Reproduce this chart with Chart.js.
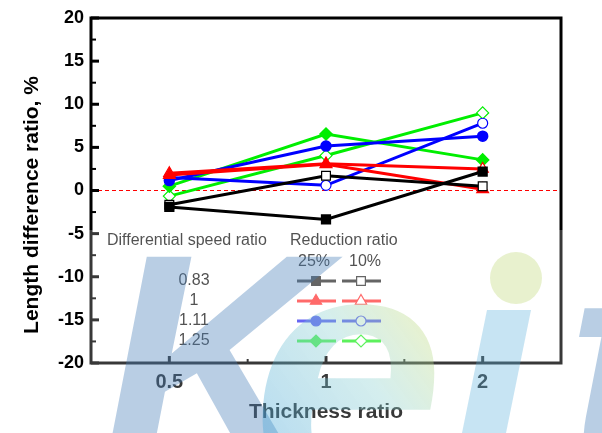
<!DOCTYPE html>
<html>
<head>
<meta charset="utf-8">
<script src="https://cdn.jsdelivr.net/npm/chart.js@4/dist/chart.umd.min.js"></script>
<style>
  html, body { margin: 0; padding: 0; background: #fff; }
  #wrap { width: 602px; height: 433px; }
</style>
</head>
<body>
<div id="wrap"><canvas id="chart"></canvas></div>
<script>
// data
const thicknessRatios = ['0.5', '1', '2'];
const speedRatios = ['0.83', '1', '1.11', '1.25'];
const reductionRatios = ['25%', '10%'];

const black25 = [-1.9, -3.35, 2.2];
const black10 = [-1.65, 1.7, 0.5];
const red25 = [1.8, 3.05, 0.15];
const red10 = [2.0, 3.1, 2.5];
const blue25 = [1.15, 5.15, 6.3];
const blue10 = [1.5, 0.6, 7.8];
const green25 = [0.5, 6.55, 3.55];
const green10 = [-0.65, 4.05, 9.0];

const FONT = 'Arial, "Liberation Sans", sans-serif';

// one style per speed ratio row
const rows = [
  { color: '#000000', key: '#3a3a3a', style: 'rect', radius: 6.2, d25: black25, d10: black10 },
  { color: '#ff0000', key: '#ff4040', style: 'triangle', radius: 6.5, d25: red25, d10: red10 },
  { color: '#0000ff', key: '#3c3cf0', style: 'circle', radius: 5, d25: blue25, d10: blue10 },
  { color: '#00ee00', key: '#30ee30', style: 'rectRot', radius: 6, d25: green25, d10: green10 }
];

function makeSet(row, label, values, filled) {
  return {
    label: label,
    data: values,
    borderColor: row.color,
    borderWidth: 3,
    pointStyle: row.style,
    pointRadius: row.radius,
    pointBorderWidth: filled ? 1.5 : 1.2,
    pointBorderColor: row.color,
    pointBackgroundColor: filled ? row.color : '#ffffff',
    tension: 0,
    fill: false
  };
}

const datasets = [];
rows.forEach((r, i) => {
  datasets.push(makeSet(r, speedRatios[i] + ' ' + reductionRatios[0], r.d25, true));
  datasets.push(makeSet(r, speedRatios[i] + ' ' + reductionRatios[1], r.d10, false));
});

const decorPlugin = {
  id: 'decor',
  beforeDatasetsDraw(chart) {
    const { ctx, chartArea: a, scales: { y } } = chart;
    const y0 = y.getPixelForValue(0);
    ctx.save();
    ctx.strokeStyle = '#ff0000';
    ctx.lineWidth = 1;
    ctx.setLineDash([4, 3]);
    ctx.beginPath();
    ctx.moveTo(a.left, y0);
    ctx.lineTo(a.right, y0);
    ctx.stroke();
    ctx.restore();
  },
  afterDatasetsDraw(chart) {
    const { ctx, chartArea: a, scales: { x, y } } = chart;
    ctx.save();
    // frame
    ctx.strokeStyle = '#000';
    ctx.lineWidth = 3;
    ctx.strokeRect(a.left, a.top, a.right - a.left, a.bottom - a.top);

    // inward ticks on y
    for (let v = -20; v <= 20; v += 2.5) {
      const py = y.getPixelForValue(v);
      const major = v % 5 === 0;
      ctx.lineWidth = major ? 3 : 2;
      ctx.beginPath();
      ctx.moveTo(a.left, py);
      ctx.lineTo(a.left + (major ? 8 : 5), py);
      ctx.stroke();
    }
    // inward ticks on x
    for (let i = 0; i < thicknessRatios.length; i++) {
      const px = x.getPixelForValue(i);
      ctx.lineWidth = 3;
      ctx.beginPath();
      ctx.moveTo(px, a.bottom);
      ctx.lineTo(px, a.bottom - 7);
      ctx.stroke();
      if (i < thicknessRatios.length - 1) {
        const mx = (px + x.getPixelForValue(i + 1)) / 2;
        ctx.lineWidth = 2;
        ctx.beginPath();
        ctx.moveTo(mx, a.bottom);
        ctx.lineTo(mx, a.bottom - 4);
        ctx.stroke();
      }
    }

    // y axis title
    ctx.fillStyle = '#000';
    ctx.font = 'bold 21px ' + FONT;
    ctx.textAlign = 'center';
    ctx.textBaseline = 'middle';
    ctx.translate(32, 205);
    ctx.rotate(-Math.PI / 2);
    ctx.fillText('Length difference ratio, %', 0, 0);
    ctx.restore();

    // legend block inside plot
    ctx.save();
    ctx.fillStyle = '#222';
    ctx.font = '16px ' + FONT;
    ctx.textBaseline = 'middle';
    ctx.textAlign = 'left';
    ctx.fillText('Differential speed ratio', a.left + 16, 241);
    ctx.fillText('Reduction ratio', a.left + 199, 241);
    ctx.textAlign = 'center';
    ctx.fillText(reductionRatios[0], 314, 262);
    ctx.fillText(reductionRatios[1], 365, 262);
    const rowY = [281, 301, 321, 341];
    const cols = [{ x0: 297, x1: 336, mx: 316, filled: true }, { x0: 342, x1: 381, mx: 361, filled: false }];
    rows.forEach((r, i) => {
      ctx.fillStyle = '#222';
      ctx.fillText(speedRatios[i], 194, rowY[i]);
      cols.forEach(c => {
        ctx.strokeStyle = r.key;
        ctx.lineWidth = 3;
        ctx.beginPath();
        ctx.moveTo(c.x0, rowY[i]);
        ctx.lineTo(c.x1, rowY[i]);
        ctx.stroke();
        ctx.fillStyle = c.filled ? r.key : '#fff';
        ctx.lineWidth = 1.2;
        Chart.helpers.drawPoint(ctx, { pointStyle: r.style, radius: r.radius, rotation: 0, borderWidth: 1.2 }, c.mx, rowY[i]);
      });
    });
    ctx.restore();
  },
  afterDraw(chart) {
    // faint "Keit" watermark lying over the lower part of the picture
    const { ctx } = chart;
    ctx.save();
    ctx.fillStyle = 'rgba(255,255,255,0.22)';
    ctx.fillRect(88, 230, 602 - 88, 433 - 230);
    ctx.textBaseline = 'alphabetic';
    ctx.textAlign = 'left';
    ctx.font = 'italic bold 310px ' + FONT;
    ctx.fillStyle = 'rgba(70,125,185,0.38)';
    ctx.fillText('K', 100, 470);
    ctx.font = 'italic bold 345px ' + FONT;
    const g = ctx.createLinearGradient(275, 440, 440, 320);
    g.addColorStop(0, 'rgba(70,165,215,0.38)');
    g.addColorStop(0.55, 'rgba(130,205,205,0.34)');
    g.addColorStop(1, 'rgba(205,222,110,0.38)');
    ctx.fillStyle = g;
    ctx.fillText('e', 252, 490);
    ctx.fillStyle = 'rgba(90,175,220,0.34)';
    ctx.beginPath();
    ctx.moveTo(487, 310);
    ctx.lineTo(531, 310);
    ctx.lineTo(506, 433);
    ctx.lineTo(462, 433);
    ctx.closePath();
    ctx.fill();
    ctx.font = 'italic bold 310px ' + FONT;
    ctx.fillStyle = 'rgba(70,125,185,0.38)';
    ctx.fillText('t', 566, 472);
    ctx.fillStyle = 'rgba(190,215,120,0.36)';
    ctx.beginPath();
    ctx.arc(516, 278, 26, 0, Math.PI * 2);
    ctx.fill();
    ctx.restore();
  }
};

new Chart(document.getElementById('chart'), {
  type: 'line',
  data: { labels: thicknessRatios, datasets: datasets },
  options: {
    responsive: true,
    maintainAspectRatio: false,
    animation: false,
    layout: { padding: { top: 18, right: 41, left: 0, bottom: 0 } },
    plugins: { legend: { display: false }, tooltip: { enabled: false } },
    scales: {
      x: {
        type: 'category',
        offset: true,
        grid: { display: false, drawTicks: false },
        border: { display: false },
        ticks: { color: '#000', padding: 7, font: { family: FONT, size: 20, weight: 'bold' } },
        title: {
          display: true,
          text: 'Thickness ratio',
          color: '#000',
          padding: { top: 8, bottom: 8 },
          font: { family: FONT, size: 21, weight: 'bold' }
        },
        afterFit(s) { s.height = 70; }
      },
      y: {
        min: -20,
        max: 20,
        grid: { display: false, drawTicks: false },
        border: { display: false },
        ticks: { stepSize: 5, color: '#000', padding: 7, font: { family: FONT, size: 18, weight: 'bold' } },
        afterFit(s) { s.width = 91; }
      }
    }
  },
  plugins: [decorPlugin]
});
</script>
</body>
</html>
